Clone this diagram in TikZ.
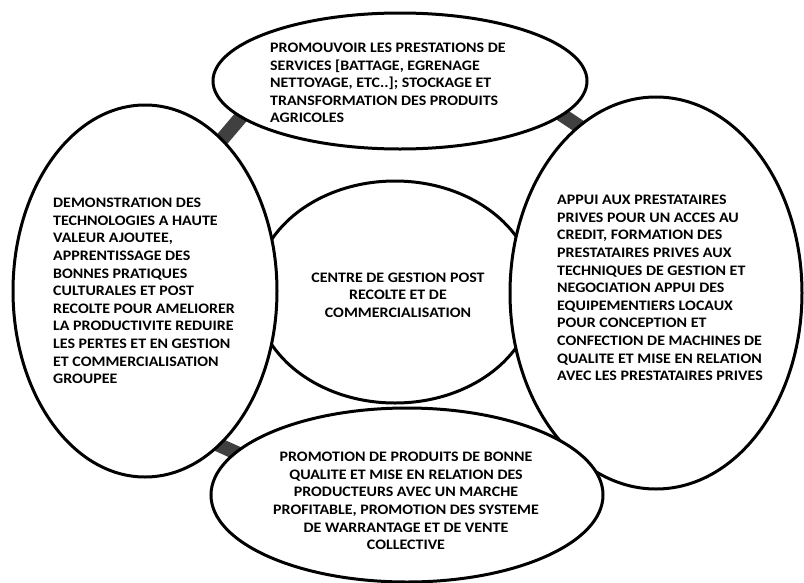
\documentclass[tikz,border=0pt]{standalone}
\usepackage{fontspec}
\setmainfont{Carlito}[FakeStretch=1.1]
\usetikzlibrary{shapes.geometric}
\pgfdeclarelayer{bg}
\pgfsetlayers{bg,main}
\begin{document}
\begin{tikzpicture}[x=1pt,y=-1pt,
  ell/.style={ellipse, draw=black, line width=3pt, fill=white, inner sep=0pt},
  bar/.style={draw=black!75, line width=14pt, shorten <=-6pt, shorten >=-6pt},
  txt/.style={font=\fontsize{14.5}{17.6}\selectfont\bfseries, inner sep=0pt}]
\useasboundingbox (0,0) rectangle (804,582);
\node[ell, minimum width=280pt, minimum height=222pt] (C) at (395,292) {};
\node[ell, minimum width=374pt, minimum height=136pt] (T) at (400,81) {};
\node[ell, minimum width=264pt, minimum height=372pt] (L) at (145,291) {};
\node[ell, minimum width=292pt, minimum height=392pt] (R) at (656,293) {};
\node[ell, minimum width=392pt, minimum height=174pt] (B) at (407,495) {};
\begin{pgfonlayer}{bg}
\draw[bar] (L.63) -- (T.193);
\draw[bar] (T.348) -- (R.115);
\draw[bar] (L.296) -- (B.166);
\draw[bar] (B.13) -- (R.243);
\end{pgfonlayer}
\node[txt, align=center] (tC) at (398,295) {CENTRE DE GESTION POST\\RECOLTE ET DE\\COMMERCIALISATION};
\node[txt, align=left, anchor=west] (tT) at (270,83) {PROMOUVOIR LES PRESTATIONS DE\\SERVICES [BATTAGE, EGRENAGE\\NETTOYAGE, ETC..]; STOCKAGE ET\\TRANSFORMATION DES PRODUITS\\AGRICOLES};
\node[txt, align=left, anchor=west] (tL) at (53,291) {DEMONSTRATION DES\\TECHNOLOGIES A HAUTE\\VALEUR AJOUTEE,\\APPRENTISSAGE DES\\BONNES PRATIQUES\\CULTURALES ET POST\\RECOLTE POUR AMELIORER\\LA PRODUCTIVITE REDUIRE\\LES PERTES ET EN GESTION\\ET COMMERCIALISATION\\GROUPEE};
\node[txt, align=left, anchor=west] (tR) at (557,288) {APPUI AUX PRESTATAIRES\\PRIVES POUR UN ACCES AU\\CREDIT, FORMATION DES\\PRESTATAIRES PRIVES AUX\\TECHNIQUES DE GESTION ET\\NEGOCIATION APPUI DES\\EQUIPEMENTIERS LOCAUX\\POUR CONCEPTION ET\\CONFECTION DE MACHINES DE\\QUALITE ET MISE EN RELATION\\AVEC LES PRESTATAIRES PRIVES};
\node[txt, align=center] (tB) at (406,501) {PROMOTION DE PRODUITS DE BONNE\\QUALITE ET MISE EN RELATION DES\\PRODUCTEURS AVEC UN MARCHE\\PROFITABLE, PROMOTION DES SYSTEME\\DE WARRANTAGE ET DE VENTE\\COLLECTIVE};
\end{tikzpicture}
\end{document}
